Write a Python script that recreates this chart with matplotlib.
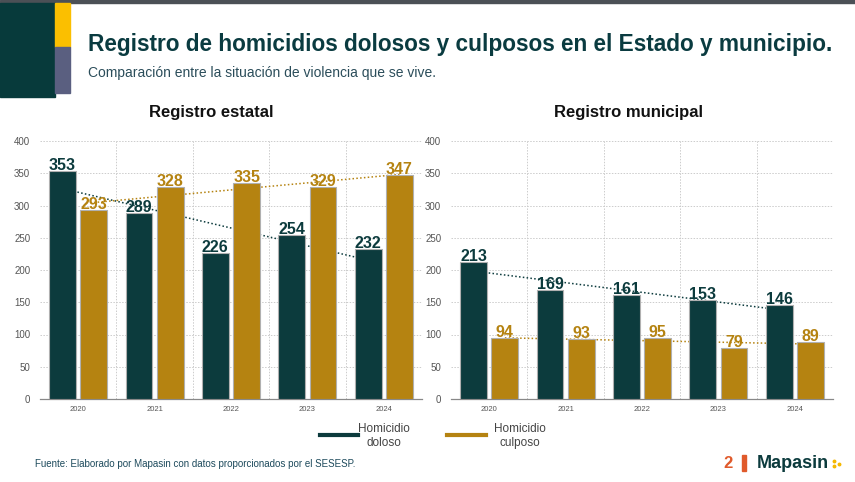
import numpy as np
import matplotlib
matplotlib.use('Agg')
import matplotlib.pyplot as plt
from matplotlib.patches import Rectangle
from matplotlib.lines import Line2D

plt.rcParams['font.family'] = ['Liberation Sans', 'DejaVu Sans']

years = ['2020', '2021', '2022', '2023', '2024']
estatal_doloso = [353, 289, 226, 254, 232]
estatal_culposo = [293, 328, 335, 329, 347]
municipal_doloso = [213, 169, 161, 153, 146]
municipal_culposo = [94, 93, 95, 79, 89]
yticks = [0, 50, 100, 150, 200, 250, 300, 350, 400]

DARK = '#0c3b3d'
GOLD = '#b58311'
W, H = 855, 482

fig = plt.figure(figsize=(W / 100, H / 100), dpi=100)


def px(x0, y0, x1, y1):
    # pixel box (top-left origin) -> figure fraction rect
    return [x0 / W, 1 - y1 / H, (x1 - x0) / W, (y1 - y0) / H]


# header decoration
fig.patches.append(Rectangle((0, 1 - 3 / H), 1, 3 / H, transform=fig.transFigure,
                             color='#4b5056', zorder=0))
fig.patches.append(Rectangle((0, 1 - 97 / H), 55 / W, 94 / H, transform=fig.transFigure,
                             color='#073a3b', zorder=0))
fig.patches.append(Rectangle((55 / W, 1 - 47 / H), 15 / W, 44 / H, transform=fig.transFigure,
                             color='#fbbf00', zorder=0))
fig.patches.append(Rectangle((55 / W, 1 - 93 / H), 15 / W, 46 / H, transform=fig.transFigure,
                             color='#5a5f80', zorder=0))

fig.text(88 / W, 1 - 45 / H, 'Registro de homicidios dolosos y culposos en el Estado y municipio.',
         fontsize=16.3, fontweight='bold', color='#0a3b40', va='center', ha='left')
fig.text(88 / W, 1 - 73 / H, 'Comparación entre la situación de violencia que se vive.',
         fontsize=10, color='#2b4d5a', va='center', ha='left')


def draw(ax, doloso, culposo, title, cx):
    x = np.arange(len(years))
    off, bw = 0.205, 0.35
    ax.bar(x - off, doloso, bw, color=DARK, edgecolor='#b0b0b0', linewidth=0.8, zorder=3)
    ax.bar(x + off, culposo, bw, color=GOLD, edgecolor='#b0b0b0', linewidth=0.8, zorder=3)
    for vals, sh, col in ((doloso, -off, DARK), (culposo, off, GOLD)):
        xs = x + sh
        k, b = np.polyfit(x, vals, 1)
        ax.plot(xs, k * x + b, ls=(0, (1, 1.5)), color=col, lw=1.1, zorder=2)
        for xi, v in zip(xs, vals):
            ax.text(xi, v - 3, str(v), ha='center', va='bottom', fontsize=11.5,
                    fontweight='bold', color=col, zorder=5)
    ax.set_xlim(-0.5, len(years) - 0.5)
    ax.set_ylim(0, 400)
    ax.set_yticks(yticks)
    ax.set_xticks(x)
    ax.set_xticklabels(years)
    ax.set_xticks(np.arange(len(years) - 1) + 0.5, minor=True)
    ax.tick_params(axis='y', length=0, labelsize=7, labelcolor='#555555', pad=7)
    ax.tick_params(axis='x', which='both', length=0, labelsize=5.5, labelcolor='#555555', pad=5)
    ax.grid(axis='y', ls=(0, (1.5, 1.5)), color='#cccccc', lw=0.7, zorder=0)
    ax.grid(axis='x', which='minor', ls=(0, (1.5, 1.5)), color='#cccccc', lw=0.7, zorder=0)
    for s in ('top', 'right', 'left'):
        ax.spines[s].set_visible(False)
    ax.spines['bottom'].set_color('#888888')
    ax.spines['bottom'].set_linewidth(0.9)
    fig.text(cx / W, 1 - 113 / H, title, fontsize=12, fontweight='bold', color='#111111',
             ha='center', va='center')


ax1 = fig.add_axes(px(40, 141, 422, 399))
draw(ax1, estatal_doloso, estatal_culposo, 'Registro estatal', 211)
ax2 = fig.add_axes(px(451, 141, 833, 399))
draw(ax2, municipal_doloso, municipal_culposo, 'Registro municipal', 628)

# legend
for x0, x1, col, lab, tx in ((320, 358, DARK, 'Homicidio\ndoloso', 384),
                            (447, 486, GOLD, 'Homicidio\nculposo', 520)):
    fig.add_artist(Line2D([x0 / W, x1 / W], [1 - 435 / H] * 2, color=col, lw=3,
                          transform=fig.transFigure))
    fig.text(tx / W, 1 - 436 / H, lab, fontsize=8.5, color='#444444', ha='center',
             va='center', linespacing=1.3)

fig.text(35 / W, 1 - 464 / H,
         'Fuente: Elaborado por Mapasin con datos proporcionados por el SESESP.',
         fontsize=7, color='#1d4a5c', ha='left', va='center')

# brand mark
fig.text(728 / W, 1 - 463 / H, '2', fontsize=12, fontweight='bold', color='#e05a2b',
         ha='center', va='center')
fig.patches.append(Rectangle((742 / W, 1 - 471 / H), 4 / W, 16 / H,
                             transform=fig.transFigure, color='#e05a2b'))
fig.text(757 / W, 1 - 463 / H, 'Mapasin', fontsize=13, fontweight='bold',
         color='#0c3b3d', ha='left', va='center')
fig.add_artist(Line2D([834 / W, 834 / W, 838.5 / W], [1 - 461 / H, 1 - 466 / H, 1 - 463.5 / H],
                      ls='none', marker='o', ms=1.8, color='#f5b800',
                      transform=fig.transFigure))

fig.savefig('out.png', dpi=100)
